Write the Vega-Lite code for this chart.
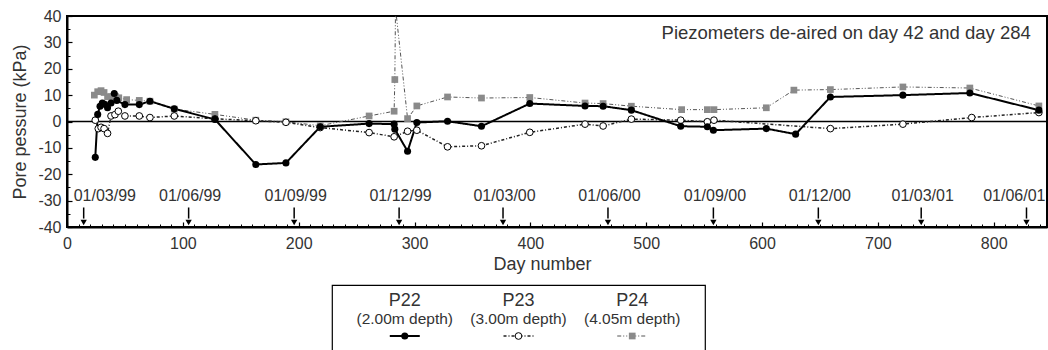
{
  "$schema": "https://vega.github.io/schema/vega-lite/v6.json",
  "padding": {"left": 10, "top": 7, "right": 0, "bottom": 0},
  "background": "white",
  "spacing": 10,
  "config": {
    "font": "Liberation Sans",
    "axis": {"grid": false},
    "text": {"color": "#333333"}
  },
  "datasets": {
    "main": [
      {"s": "P24", "day": 23.6, "v": 10.0}, {"s": "P24", "day": 26.5, "v": 11.3}, {"s": "P24", "day": 29.4, "v": 11.7},
      {"s": "P24", "day": 32, "v": 11.0}, {"s": "P24", "day": 35, "v": 9.4}, {"s": "P24", "day": 38, "v": 9.4},
      {"s": "P24", "day": 42, "v": 9.4}, {"s": "P24", "day": 44.7, "v": 9.0}, {"s": "P24", "day": 51.5, "v": 8.3},
      {"s": "P24", "day": 62.4, "v": 8.0}, {"s": "P24", "day": 71.6, "v": 7.7}, {"s": "P24", "day": 92.6, "v": 4.7},
      {"s": "P24", "day": 127.7, "v": 2.7}, {"s": "P24", "day": 163, "v": 0.5}, {"s": "P24", "day": 189, "v": -0.1},
      {"s": "P24", "day": 218.6, "v": -1.6}, {"s": "P24", "day": 260.8, "v": 2.1}, {"s": "P24", "day": 282.4, "v": 3.9},
      {"s": "P24", "day": 283, "v": 15.9}, {"s": "P24", "day": 283.6, "v": 43}, {"s": "P24", "day": 294, "v": 1.1},
      {"s": "P24", "day": 302, "v": 5.9}, {"s": "P24", "day": 328.5, "v": 9.3}, {"s": "P24", "day": 357.8, "v": 8.9},
      {"s": "P24", "day": 399.5, "v": 9.1}, {"s": "P24", "day": 447.2, "v": 7.0}, {"s": "P24", "day": 462.8, "v": 6.8},
      {"s": "P24", "day": 487.2, "v": 5.8}, {"s": "P24", "day": 530.6, "v": 4.5}, {"s": "P24", "day": 552.8, "v": 4.5},
      {"s": "P24", "day": 558.5, "v": 4.5}, {"s": "P24", "day": 603.7, "v": 5.2}, {"s": "P24", "day": 627.5, "v": 11.9},
      {"s": "P24", "day": 659, "v": 12.1}, {"s": "P24", "day": 721.6, "v": 13.1}, {"s": "P24", "day": 779.4, "v": 12.7},
      {"s": "P24", "day": 839, "v": 5.9},

      {"s": "P23", "day": 24.4, "v": 0.5}, {"s": "P23", "day": 27, "v": -2.7}, {"s": "P23", "day": 29.4, "v": -2.2},
      {"s": "P23", "day": 32, "v": -2.7}, {"s": "P23", "day": 35, "v": -4.5}, {"s": "P23", "day": 38, "v": 2.1},
      {"s": "P23", "day": 41.4, "v": 2.6}, {"s": "P23", "day": 44.3, "v": 3.9}, {"s": "P23", "day": 50, "v": 2.1},
      {"s": "P23", "day": 62.4, "v": 2.1}, {"s": "P23", "day": 71.6, "v": 1.5}, {"s": "P23", "day": 92.6, "v": 2.1},
      {"s": "P23", "day": 127.7, "v": 1.0}, {"s": "P23", "day": 163, "v": 0.3}, {"s": "P23", "day": 189, "v": -0.3},
      {"s": "P23", "day": 218.6, "v": -2.3}, {"s": "P23", "day": 260.8, "v": -4.2}, {"s": "P23", "day": 282.4, "v": -5.8},
      {"s": "P23", "day": 294, "v": -3.7}, {"s": "P23", "day": 302, "v": -3.3}, {"s": "P23", "day": 328.5, "v": -9.6},
      {"s": "P23", "day": 357.8, "v": -9.2}, {"s": "P23", "day": 399.5, "v": -4.1}, {"s": "P23", "day": 447.2, "v": -1.0},
      {"s": "P23", "day": 462.8, "v": -1.7}, {"s": "P23", "day": 487.2, "v": 0.9}, {"s": "P23", "day": 529.8, "v": 0.5},
      {"s": "P23", "day": 552.8, "v": -0.1}, {"s": "P23", "day": 558.5, "v": 0.5}, {"s": "P23", "day": 659, "v": -2.7},
      {"s": "P23", "day": 721.6, "v": -1.0}, {"s": "P23", "day": 781, "v": 1.5}, {"s": "P23", "day": 839, "v": 3.4},

      {"s": "P22", "day": 24.4, "v": -13.6}, {"s": "P22", "day": 26.5, "v": 2.7}, {"s": "P22", "day": 28.5, "v": 5.8},
      {"s": "P22", "day": 30.5, "v": 7.0}, {"s": "P22", "day": 32.5, "v": 6.5}, {"s": "P22", "day": 35, "v": 5.2},
      {"s": "P22", "day": 38, "v": 7.0}, {"s": "P22", "day": 40.8, "v": 10.6}, {"s": "P22", "day": 43, "v": 8.0},
      {"s": "P22", "day": 50, "v": 6.4}, {"s": "P22", "day": 62.4, "v": 6.4}, {"s": "P22", "day": 71.6, "v": 7.7},
      {"s": "P22", "day": 92.6, "v": 4.8}, {"s": "P22", "day": 127.7, "v": 0.8}, {"s": "P22", "day": 163, "v": -16.3},
      {"s": "P22", "day": 189, "v": -15.7}, {"s": "P22", "day": 218.6, "v": -2.0}, {"s": "P22", "day": 260.8, "v": -0.8},
      {"s": "P22", "day": 282.4, "v": -1.0}, {"s": "P22", "day": 283, "v": -2.9}, {"s": "P22", "day": 294, "v": -11.3},
      {"s": "P22", "day": 302, "v": -0.4}, {"s": "P22", "day": 328.5, "v": 0.1}, {"s": "P22", "day": 357.8, "v": -1.8},
      {"s": "P22", "day": 399.5, "v": 6.8}, {"s": "P22", "day": 447.2, "v": 5.9}, {"s": "P22", "day": 462.8, "v": 5.8},
      {"s": "P22", "day": 487.2, "v": 4.3}, {"s": "P22", "day": 529.8, "v": -1.8}, {"s": "P22", "day": 552.8, "v": -2.0},
      {"s": "P22", "day": 558, "v": -3.3}, {"s": "P22", "day": 603.7, "v": -2.7}, {"s": "P22", "day": 629, "v": -4.8},
      {"s": "P22", "day": 659, "v": 9.3}, {"s": "P22", "day": 721.6, "v": 10.0}, {"s": "P22", "day": 779.4, "v": 10.8},
      {"s": "P22", "day": 839, "v": 4.3}
    ],
    "arrows": [
      {"date": "01/03/99", "day": 14.4}, {"date": "01/06/99", "day": 105}, {"date": "01/09/99", "day": 196.1},
      {"date": "01/12/99", "day": 286.7}, {"date": "01/03/00", "day": 376.4}, {"date": "01/06/00", "day": 467},
      {"date": "01/09/00", "day": 558}, {"date": "01/12/00", "day": 648.6}, {"date": "01/03/01", "day": 737.4},
      {"date": "01/06/01", "day": 828.3}
    ],
    "note": [
      {"day": 832, "v": 31.1, "text": "Piezometers de-aired on day 42 and day 284"}
    ],
    "zero": [{"day": 0, "v": 0}],
    "legend": [
      {"s": "P22", "part": "name", "label": "P22"},
      {"s": "P22", "part": "depth", "label": "(2.00m depth)"},
      {"s": "P22", "part": "symbol", "label": ""},
      {"s": "P23", "part": "name", "label": "P23"},
      {"s": "P23", "part": "depth", "label": "(3.00m depth)"},
      {"s": "P23", "part": "symbol", "label": ""},
      {"s": "P24", "part": "name", "label": "P24"},
      {"s": "P24", "part": "depth", "label": "(4.05m depth)"},
      {"s": "P24", "part": "symbol", "label": ""}
    ]
  },
  "vconcat": [
    {
      "width": 980,
      "height": 211,
      "view": {"stroke": "#000000", "strokeWidth": 2},
      "resolve": {"axis": {"x": "independent", "y": "independent"}},
      "layer": [
        {
          "data": {"name": "zero"},
          "mark": {"type": "point", "opacity": 0},
          "encoding": {
            "x": {
              "field": "day", "type": "quantitative",
              "scale": {"domain": [0, 846], "nice": false, "zero": false},
              "axis": {
                "orient": "bottom", "title": null, "labels": false, "domain": false,
                "values": [10,20,30,40,50,60,70,80,90,110,120,130,140,150,160,170,180,190,210,220,230,240,250,260,270,280,290,310,320,330,340,350,360,370,380,390,410,420,430,440,450,460,470,480,490,510,520,530,540,550,560,570,580,590,610,620,630,640,650,660,670,680,690,710,720,730,740,750,760,770,780,790,810,820,830,840],
                "tickSize": -3, "tickColor": "#000000", "tickWidth": 1
              }
            },
            "y": {
              "field": "v", "type": "quantitative",
              "scale": {"domain": [-40, 40], "nice": false},
              "axis": {
                "orient": "left", "title": null, "labels": false, "domain": false,
                "values": [-35,-25,-15,-5,5,15,25,35],
                "tickSize": -3, "tickColor": "#000000", "tickWidth": 1
              }
            }
          }
        },
        {
          "data": {"name": "zero"},
          "mark": {"type": "rule", "color": "#000000", "strokeWidth": 1.5},
          "encoding": {
            "y": {
              "field": "v", "type": "quantitative",
              "scale": {"domain": [-40, 40], "nice": false},
              "axis": {
                "orient": "left",
                "title": "Pore pessure (kPa)",
                "values": [-40,-30,-20,-10,0,10,20,30,40],
                "labelExpr": "'' + datum.value",
                "tickSize": -5, "tickColor": "#000000", "tickWidth": 1.2,
                "domainColor": "#000000", "domainWidth": 2,
                "labelFontSize": 16, "labelColor": "#333333", "labelPadding": 11,
                "titleFontSize": 18, "titleFontWeight": "normal", "titleColor": "#333333",
                "titlePadding": 8
              }
            }
          }
        },
        {
          "data": {"name": "main"},
          "mark": {"type": "line", "clip": true},
          "encoding": {
            "x": {
              "field": "day", "type": "quantitative",
              "scale": {"domain": [0, 846], "nice": false, "zero": false},
              "axis": {
                "orient": "bottom",
                "title": "Day number",
                "values": [0,100,200,300,400,500,600,700,800],
                "labelExpr": "'' + datum.value",
                "tickSize": -5, "tickColor": "#000000", "tickWidth": 1.2,
                "domainColor": "#000000", "domainWidth": 2,
                "labelFontSize": 16, "labelColor": "#333333", "labelPadding": 13,
                "labelFlush": false,
                "titleFontSize": 18, "titleFontWeight": "normal", "titleColor": "#333333",
                "titlePadding": 4, "titleX": 475
              }
            },
            "y": {"field": "v", "type": "quantitative", "scale": {"domain": [-40, 40], "nice": false}, "axis": null},
            "color": {"field": "s", "type": "nominal", "scale": {"domain": ["P22", "P23", "P24"], "range": ["#000000", "#222222", "#555555"]}, "legend": null},
            "strokeDash": {"field": "s", "type": "nominal", "scale": {"domain": ["P22", "P23", "P24"], "range": [[1, 0], [3, 2, 1, 2], [4, 2, 1, 2, 1, 2]]}, "legend": null},
            "strokeWidth": {"field": "s", "type": "ordinal", "scale": {"domain": ["P22", "P23", "P24"], "range": [2, 1, 1]}, "legend": null}
          }
        },
        {
          "data": {"name": "main"},
          "transform": [{"filter": "datum.s === 'P24'"}],
          "mark": {"type": "point", "shape": "square", "filled": true, "color": "#8a8a8a", "size": 45, "opacity": 1, "clip": true},
          "encoding": {
            "x": {"field": "day", "type": "quantitative", "scale": {"domain": [0, 846], "nice": false, "zero": false}, "axis": null},
            "y": {"field": "v", "type": "quantitative", "scale": {"domain": [-40, 40], "nice": false}, "axis": null}
          }
        },
        {
          "data": {"name": "main"},
          "transform": [{"filter": "datum.s === 'P23'"}],
          "mark": {"type": "point", "shape": "circle", "filled": true, "fill": "#ffffff", "stroke": "#000000", "strokeWidth": 1, "size": 45, "opacity": 1, "clip": true},
          "encoding": {
            "x": {"field": "day", "type": "quantitative", "scale": {"domain": [0, 846], "nice": false, "zero": false}, "axis": null},
            "y": {"field": "v", "type": "quantitative", "scale": {"domain": [-40, 40], "nice": false}, "axis": null}
          }
        },
        {
          "data": {"name": "main"},
          "transform": [{"filter": "datum.s === 'P22'"}],
          "mark": {"type": "circle", "color": "#000000", "size": 50, "opacity": 1, "clip": true},
          "encoding": {
            "x": {"field": "day", "type": "quantitative", "scale": {"domain": [0, 846], "nice": false, "zero": false}, "axis": null},
            "y": {"field": "v", "type": "quantitative", "scale": {"domain": [-40, 40], "nice": false}, "axis": null}
          }
        },
        {
          "data": {"name": "arrows"},
          "mark": {"type": "rule", "color": "#000000", "strokeWidth": 1.5},
          "encoding": {
            "x": {"field": "day", "type": "quantitative", "scale": {"domain": [0, 846], "nice": false, "zero": false}, "axis": null},
            "y": {"datum": -32.6, "type": "quantitative", "scale": {"domain": [-40, 40], "nice": false}, "axis": null},
            "y2": {"datum": -36.8}
          }
        },
        {
          "data": {"name": "arrows"},
          "mark": {"type": "point", "shape": "triangle-down", "filled": true, "color": "#000000", "size": 40, "opacity": 1},
          "encoding": {
            "x": {"field": "day", "type": "quantitative", "scale": {"domain": [0, 846], "nice": false, "zero": false}, "axis": null},
            "y": {"datum": -38.3, "type": "quantitative", "scale": {"domain": [-40, 40], "nice": false}, "axis": null}
          }
        },
        {
          "data": {"name": "arrows"},
          "transform": [{"filter": "datum.date !== '01/03/99' && datum.date !== '01/06/01'"}],
          "mark": {"type": "text", "fontSize": 16, "align": "center", "baseline": "middle", "dx": 1.5, "color": "#333333"},
          "encoding": {
            "x": {"field": "day", "type": "quantitative", "scale": {"domain": [0, 846], "nice": false, "zero": false}, "axis": null},
            "y": {"datum": -28.4, "type": "quantitative", "scale": {"domain": [-40, 40], "nice": false}, "axis": null},
            "text": {"field": "date"}
          }
        },
        {
          "data": {"name": "arrows"},
          "transform": [{"filter": "datum.date === '01/03/99'"}],
          "mark": {"type": "text", "fontSize": 16, "align": "left", "baseline": "middle", "dx": -10, "color": "#333333"},
          "encoding": {
            "x": {"field": "day", "type": "quantitative", "scale": {"domain": [0, 846], "nice": false, "zero": false}, "axis": null},
            "y": {"datum": -28.4, "type": "quantitative", "scale": {"domain": [-40, 40], "nice": false}, "axis": null},
            "text": {"field": "date"}
          }
        },
        {
          "data": {"name": "arrows"},
          "transform": [{"filter": "datum.date === '01/06/01'"}],
          "mark": {"type": "text", "fontSize": 16, "align": "right", "baseline": "middle", "dx": 19, "color": "#333333"},
          "encoding": {
            "x": {"field": "day", "type": "quantitative", "scale": {"domain": [0, 846], "nice": false, "zero": false}, "axis": null},
            "y": {"datum": -28.4, "type": "quantitative", "scale": {"domain": [-40, 40], "nice": false}, "axis": null},
            "text": {"field": "date"}
          }
        },
        {
          "data": {"name": "note"},
          "mark": {"type": "text", "fontSize": 18.5, "align": "right", "baseline": "alphabetic", "color": "#333333"},
          "encoding": {
            "x": {"field": "day", "type": "quantitative", "scale": {"domain": [0, 846], "nice": false, "zero": false}, "axis": null},
            "y": {"field": "v", "type": "quantitative", "scale": {"domain": [-40, 40], "nice": false}, "axis": null},
            "text": {"field": "text"}
          }
        }
      ]
    },
    {
      "spacing": 0,
      "hconcat": [
        {
          "width": 264,
          "height": 10,
          "view": {"stroke": null},
          "data": {"values": []},
          "mark": {"type": "point", "opacity": 0}
        },
        {
          "width": 373,
          "height": 67,
          "view": {"stroke": "#000000", "strokeWidth": 1.2},
          "data": {"name": "legend"},
          "layer": [
            {
              "transform": [{"filter": "datum.part !== 'symbol'"}],
              "mark": {"type": "text", "baseline": "middle", "align": "center", "color": "#333333"},
              "encoding": {
                "x": {"field": "s", "type": "nominal", "scale": {"type": "point", "domain": ["P22", "P23", "P24"], "padding": 0.64}, "axis": null},
                "y": {"field": "part", "type": "nominal", "scale": {"type": "point", "domain": ["name", "depth", "symbol"], "padding": 0.914}, "axis": null},
                "text": {"field": "label"},
                "size": {"field": "part", "type": "nominal", "scale": {"domain": ["name", "depth"], "range": [18, 15.5]}, "legend": null}
              }
            },
            {
              "transform": [{"filter": "datum.part === 'symbol'"}],
              "mark": {"type": "rule", "xOffset": -15, "x2Offset": 15},
              "encoding": {
                "x": {"field": "s", "type": "nominal", "scale": {"type": "point", "domain": ["P22", "P23", "P24"], "padding": 0.64}, "axis": null},
                "x2": {"field": "s"},
                "y": {"field": "part", "type": "nominal", "scale": {"type": "point", "domain": ["name", "depth", "symbol"], "padding": 0.914}, "axis": null},
                "color": {"field": "s", "type": "nominal", "scale": {"domain": ["P22", "P23", "P24"], "range": ["#000000", "#222222", "#555555"]}, "legend": null},
                "strokeDash": {"field": "s", "type": "nominal", "scale": {"domain": ["P22", "P23", "P24"], "range": [[1, 0], [3, 2, 1, 2], [4, 2, 1, 2, 1, 2]]}, "legend": null},
                "strokeWidth": {"field": "s", "type": "ordinal", "scale": {"domain": ["P22", "P23", "P24"], "range": [2, 1, 1]}, "legend": null}
              }
            },
            {
              "transform": [{"filter": "datum.part === 'symbol' && datum.s === 'P22'"}],
              "mark": {"type": "circle", "color": "#000000", "size": 50, "opacity": 1},
              "encoding": {
                "x": {"field": "s", "type": "nominal", "scale": {"type": "point", "domain": ["P22", "P23", "P24"], "padding": 0.64}, "axis": null},
                "y": {"field": "part", "type": "nominal", "scale": {"type": "point", "domain": ["name", "depth", "symbol"], "padding": 0.914}, "axis": null}
              }
            },
            {
              "transform": [{"filter": "datum.part === 'symbol' && datum.s === 'P23'"}],
              "mark": {"type": "point", "shape": "circle", "filled": true, "fill": "#ffffff", "stroke": "#000000", "strokeWidth": 1, "size": 45, "opacity": 1},
              "encoding": {
                "x": {"field": "s", "type": "nominal", "scale": {"type": "point", "domain": ["P22", "P23", "P24"], "padding": 0.64}, "axis": null},
                "y": {"field": "part", "type": "nominal", "scale": {"type": "point", "domain": ["name", "depth", "symbol"], "padding": 0.914}, "axis": null}
              }
            },
            {
              "transform": [{"filter": "datum.part === 'symbol' && datum.s === 'P24'"}],
              "mark": {"type": "point", "shape": "square", "filled": true, "color": "#8a8a8a", "size": 45, "opacity": 1},
              "encoding": {
                "x": {"field": "s", "type": "nominal", "scale": {"type": "point", "domain": ["P22", "P23", "P24"], "padding": 0.64}, "axis": null},
                "y": {"field": "part", "type": "nominal", "scale": {"type": "point", "domain": ["name", "depth", "symbol"], "padding": 0.914}, "axis": null}
              }
            }
          ]
        }
      ]
    }
  ]
}
